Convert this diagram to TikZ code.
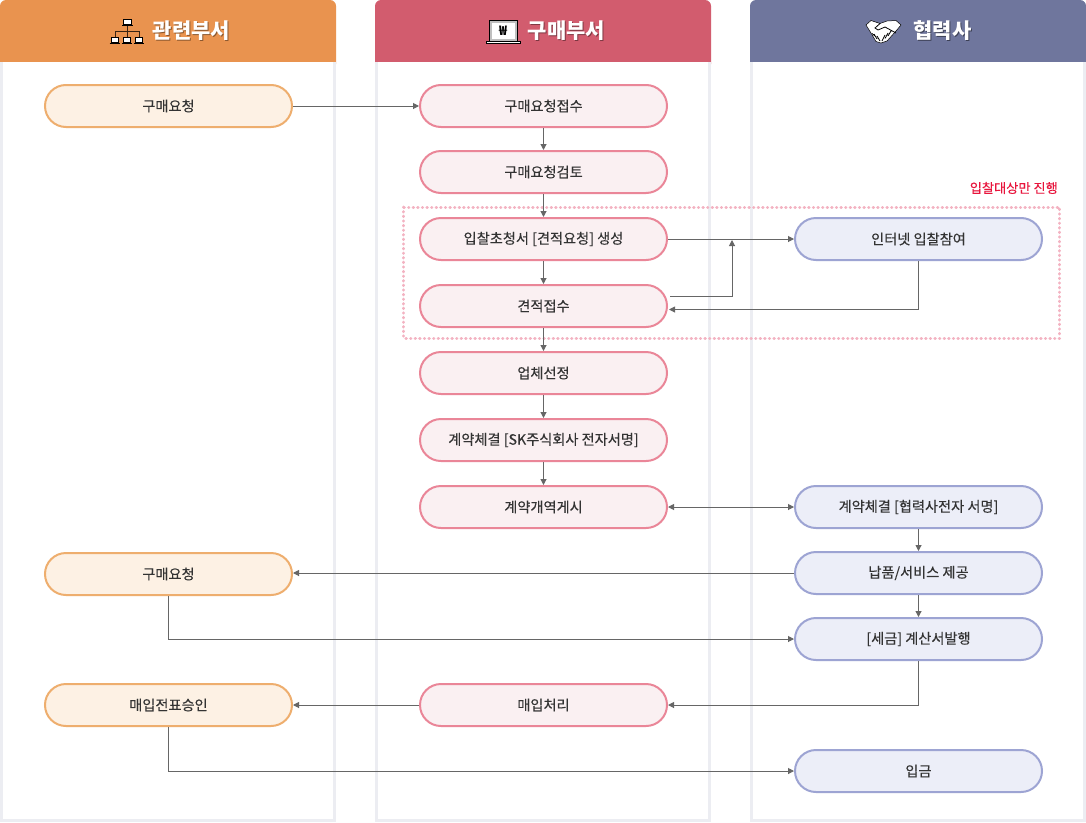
\documentclass[tikz,border=0pt]{standalone}
\usepackage{fontspec}
\setmainfont{Noto Sans CJK KR}
\newfontfamily\bodyfont[FakeBold=0.25]{Noto Sans CJK KR}
\usetikzlibrary{arrows.meta,calc}
\definecolor{orgH}{HTML}{E9934F}
\definecolor{redH}{HTML}{D25C6E}
\definecolor{bluH}{HTML}{6F769D}
\definecolor{edgeG}{HTML}{ECEDF2}
\definecolor{lineG}{HTML}{666666}
\definecolor{txt}{HTML}{333333}
\definecolor{orgL}{HTML}{EEAE6E}
\definecolor{orgF}{HTML}{FDF1E4}
\definecolor{redL}{HTML}{EA8698}
\definecolor{redF}{HTML}{FAF0F2}
\definecolor{bluL}{HTML}{9DA4D3}
\definecolor{bluF}{HTML}{ECEEF8}
\definecolor{dotP}{HTML}{F3B3C2}
\definecolor{alert}{HTML}{E8143C}
\tikzset{
 x=1pt,y=-1pt,
 panel/.style={draw=edgeG,line width=3pt,fill=white},
 base/.style={rounded corners=21pt,minimum width=247pt,minimum height=42pt,line width=2pt,
   inner sep=0pt,text=txt,font=\bodyfont\fontsize{14.2}{16}\selectfont},
 orgbox/.style={base,draw=orgL,fill=orgF},
 redbox/.style={base,draw=redL,fill=redF},
 blubox/.style={base,draw=bluL,fill=bluF},
 conn/.style={draw=lineG,line width=1pt,-{Triangle[length=6pt,width=6pt]}},
 connboth/.style={draw=lineG,line width=1pt,{Triangle[length=6pt,width=6pt]}-{Triangle[length=6pt,width=6pt]}},
 head/.style={text=white,font=\fontsize{21}{24}\selectfont\bfseries,inner sep=0pt},
 headsh/.style={text=#1,font=\fontsize{21}{24}\selectfont\bfseries,inner sep=0pt},
}
\begin{document}
\begin{tikzpicture}
\useasboundingbox (0,0) rectangle (1086,822);
\fill[white] (0,0) rectangle (1086,822);
% panels
\foreach \xa/\xb/\c in {0/336/orgH,375/711/redH,750/1086/bluH}{
 \draw[panel] (\xa+1.5,40) rectangle (\xb-1.5,820.5);
 \fill[\c,rounded corners=6pt] (\xa,70) -- (\xa,0) -- (\xb,0) -- (\xb,70) -- cycle;
 \fill[white] (\xa+3,62) rectangle (\xb-3,72);
 \fill[edgeG] (\xa,62) rectangle (\xa+3,72);
 \fill[edgeG] (\xb-3,62) rectangle (\xb,72);
}
% header text
\node[headsh=orgH!60!black] (s1) at (192.5,31.5) {관련부서};
\node[head] (h1) at (191.5,30.5) {관련부서};
\node[headsh=redH!60!black] (s2) at (567.5,31.5) {구매부서};
\node[head] (h2) at (566.5,30.5) {구매부서};
\node[headsh=bluH!55!black] (s3) at (943.5,31.5) {협력사};
\node[head] (h3) at (942.5,30.5) {협력사};
% org icon
\begin{scope}[line width=1pt,draw=black]
 \draw[fill=white] (123.5,19) rectangle (131,24.5);
 \draw[line width=1.2pt] (122,25.5) -- (132.5,25.5);
 \draw[draw=black!75!orgH] (127,26) -- (127,37) (115,37) -- (115,31.5) -- (139,31.5) -- (139,37);
 \foreach \x in {115,127,139}{
  \draw[fill=white] (\x-3.7,37.5) rectangle (\x+3.7,42.5);
  \draw[line width=1.2pt] (\x-5.3,43.5) -- (\x+5.3,43.5);
 }
\end{scope}
% laptop icon
\draw[fill=black!25,line width=1pt] (489.5,20.5) rectangle (517,41.5);
\fill[white] (492,23) rectangle (514.5,39);
\draw[fill=white,line width=.9pt] (486,41.5) -- (520.5,41.5) -- (520.5,43) -- (486,43) -- cycle;
\node[font=\fontsize{13}{13}\selectfont\bfseries,inner sep=0pt,text=black] (won) at (503,31) {₩};
% handshake icon
\fill[white,draw=black,line width=.5pt] (866,25) -- (871,20.5) -- (880,23.5) -- (887,21) -- (896,20.5) -- (901,25)
 -- (896,31) -- (887,41) -- (881,43) -- (876,41.5) -- (871,33) -- cycle;
\draw[black,line width=.8pt] (880,23.5) -- (875,28) -- (878,30) -- (885,27) -- (896,33)
 (891,31) -- (888,36) (888,33) -- (885,38.5) (885,35) -- (882,41)
 (872,33.5) -- (875,36) (874,34) -- (877,39) (877,36) -- (880,41);
% nodes
\node[orgbox] (a1) at (168.5,106) {구매요청};
\node[orgbox] (a2) at (168.5,574) {구매요청};
\node[orgbox] (a3) at (168.5,705) {매입전표승인};
\node[redbox] (b1) at (543.5,106) {구매요청접수};
\node[redbox] (b2) at (543.5,172) {구매요청검토};
\node[redbox] (b3) at (543.5,239) {입찰초청서 [견적요청] 생성};
\node[redbox] (b4) at (543.5,306) {견적접수};
\node[redbox] (b5) at (543.5,373) {업체선정};
\node[redbox] (b6) at (543.5,440) {계약체결 [SK주식회사 전자서명]};
\node[redbox] (b7) at (543.5,507) {계약개역게시};
\node[redbox] (b8) at (543.5,705) {매입처리};
\node[blubox] (c1) at (918.5,239) {인터넷 입찰참여};
\node[blubox] (c2) at (918.5,507) {계약체결 [협력사전자 서명]};
\node[blubox] (c3) at (918.5,573) {납품/서비스 제공};
\node[blubox] (c4) at (918.5,639) {[세금] 계산서발행};
\node[blubox] (c5) at (918.5,771) {입금};
% dotted frame
\draw[draw=dotP,line width=3pt,line cap=round,dash pattern=on 0.4pt off 4.2pt]
 (403.5,207) rectangle (1059.5,338);
\node[anchor=east,inner sep=0pt,text=alert,font=\bodyfont\fontsize{13.2}{15}\selectfont] (note) at (1058,188) {입찰대상만 진행};
% connectors
\draw[conn] (a1.east) -- (b1.west);
\foreach \p/\q in {b1/b2,b2/b3,b3/b4,b4/b5,b5/b6,b6/b7,c2/c3,c3/c4}
  \draw[conn] (\p.south) -- (\q.north);
\draw[conn] (b3.east) -- (c1.west);
\coordinate (j1) at ($(b3.east)+(64,1)$);
\draw[conn] ($(b4.east)+(2,-9.5)$) -| (j1);
\draw[conn] (c1.south) |- ($(b4.east)+(1,3.5)$);
\draw[connboth] (b7.east) -- (c2.west);
\draw[conn] (c3.west) -- (c3.west -| a2.east);
\draw[conn] (a2.south) |- (c4.west);
\draw[conn] (c4.south) |- (b8.east);
\draw[conn] (b8.west) -- (a3.east);
\draw[conn] (a3.south) |- (c5.west);
\end{tikzpicture}
\end{document}
